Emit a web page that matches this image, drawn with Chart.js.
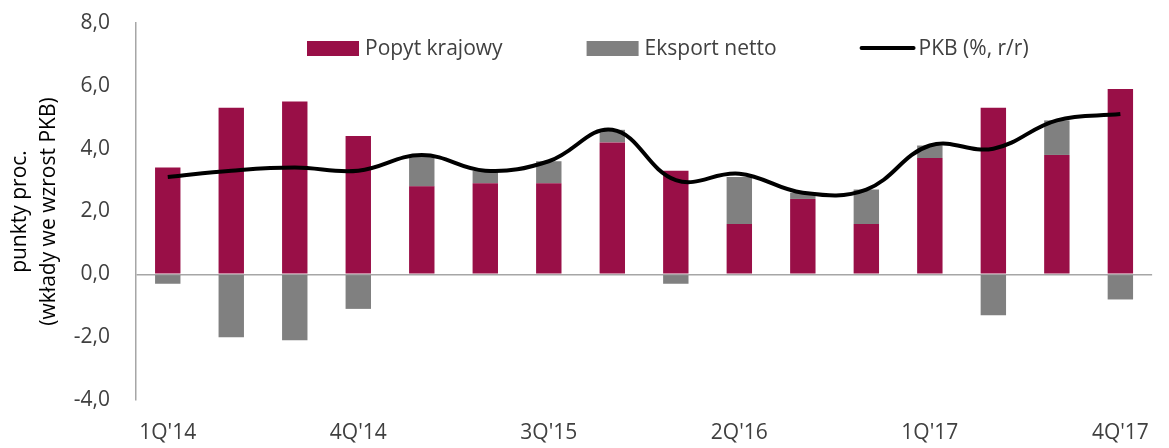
<!DOCTYPE html>
<html>
<head>
<meta charset="utf-8">
<script src="https://cdn.jsdelivr.net/npm/chart.js@4/dist/chart.umd.min.js"></script>
<style>
  html, body { margin: 0; padding: 0; background: #fff; }
  #wrap { width: 1169px; height: 448px; }
</style>
</head>
<body>
<div id="wrap"><canvas id="chart" width="1169" height="448"></canvas></div>
<script>
// kwartały 1Q'14 - 4Q'17
const quarters = ["1Q'14", "2Q'14", "3Q'14", "4Q'14", "1Q'15", "2Q'15", "3Q'15", "4Q'15",
  "1Q'16", "2Q'16", "3Q'16", "4Q'16", "1Q'17", "2Q'17", "3Q'17", "4Q'17"];
const popytKrajowy = [3.4, 5.3, 5.5, 4.4, 2.8, 2.9, 2.9, 4.2, 3.3, 1.6, 2.4, 1.6, 3.7, 5.3, 3.8, 5.9];
const eksportNetto = [-0.3, -2.0, -2.1, -1.1, 1.0, 0.4, 0.7, 0.4, -0.3, 1.5, 0.2, 1.1, 0.4, -1.3, 1.1, -0.8];
const pkb = [3.1, 3.3, 3.4, 3.3, 3.8, 3.3, 3.6, 4.6, 3.0, 3.2, 2.6, 2.7, 4.1, 4.0, 4.9, 5.1];
const yTicks = { min: -4, max: 8, step: 2 };

const FONT = "'Open Sans', 'Noto Sans', sans-serif";

// legenda rysowana wewnątrz obszaru wykresu
const innerLegend = {
  id: "innerLegend",
  afterDraw(chart) {
    const ctx = chart.ctx;
    const y = 48;
    let x = chart.chartArea.left + 171;
    ctx.save();
    ctx.font = "21px " + FONT;
    ctx.textBaseline = "middle";
    const items = [chart.data.datasets[1], chart.data.datasets[2], chart.data.datasets[0]];
    items.forEach((ds) => {
      if (ds.type === "line") {
        ctx.strokeStyle = ds.borderColor;
        ctx.lineWidth = 4;
        ctx.lineCap = "round";
        ctx.beginPath();
        ctx.moveTo(x + 1, y);
        ctx.lineTo(x + 53, y);
        ctx.stroke();
      } else {
        ctx.fillStyle = ds.backgroundColor;
        ctx.fillRect(x, y - 7, 52, 15);
      }
      ctx.fillStyle = "#404040";
      ctx.fillText(ds.label, x + 58, y + 1);
      x += 58 + ctx.measureText(ds.label).width + 84;
    });
    ctx.restore();
  },
};

const ctx = document.getElementById("chart").getContext("2d");
new Chart(ctx, {
  data: {
    labels: quarters,
    datasets: [
      {
        type: "line",
        label: "PKB (%, r/r)",
        data: pkb,
        borderColor: "#000000",
        borderWidth: 4,
        pointRadius: 0,
        tension: 0.4,
        fill: false,
        stack: "pkb",
        order: -1,
      },
      {
        type: "bar",
        label: "Popyt krajowy",
        data: popytKrajowy,
        backgroundColor: "#990f47",
        stack: "bars",
        categoryPercentage: 1,
        barPercentage: 0.4,
      },
      {
        type: "bar",
        label: "Eksport netto",
        data: eksportNetto,
        backgroundColor: "#808080",
        stack: "bars",
        categoryPercentage: 1,
        barPercentage: 0.4,
      },
    ],
  },
  options: {
    responsive: false,
    animation: false,
    layout: { padding: { top: 23, right: 5, left: 0, bottom: 0 } },
    plugins: {
      legend: { display: false },
      tooltip: { enabled: false },
    },
    scales: {
      x: {
        stacked: true,
        offset: true,
        grid: { display: false, drawTicks: false },
        border: { display: false },
        ticks: {
          autoSkip: false,
          maxRotation: 0,
          padding: 20,
          color: "#404040",
          font: { family: FONT, size: 21 },
          callback: (v, i) => (i % 3 === 0 ? quarters[i] : ""),
        },
        afterFit: (s) => { s.height = 48; },
      },
      y: {
        stacked: true,
        min: yTicks.min,
        max: yTicks.max,
        ticks: {
          stepSize: yTicks.step,
          padding: 26,
          color: "#404040",
          font: { family: FONT, size: 21 },
          callback: (v) => v.toFixed(1).replace(".", ","),
        },
        grid: {
          drawTicks: false,
          color: (c) => (c.tick && c.tick.value === 0 ? "#a6a6a6" : "transparent"),
          lineWidth: 1.5,
        },
        border: { display: true, color: "#a6a6a6", width: 1.5 },
        title: {
          display: true,
          text: ["punkty proc.", "(wkłady we wzrost PKB)"],
          color: "#000000",
          font: { family: FONT, size: 21, lineHeight: 1.35 },
          padding: { top: 6, bottom: 0 },
        },
        afterFit: (s) => {
          s.width = 136;
          s.paddingTop = 12;
          s.paddingBottom = 12;
        },
      },
    },
  },
  plugins: [innerLegend],
});
</script>
</body>
</html>
